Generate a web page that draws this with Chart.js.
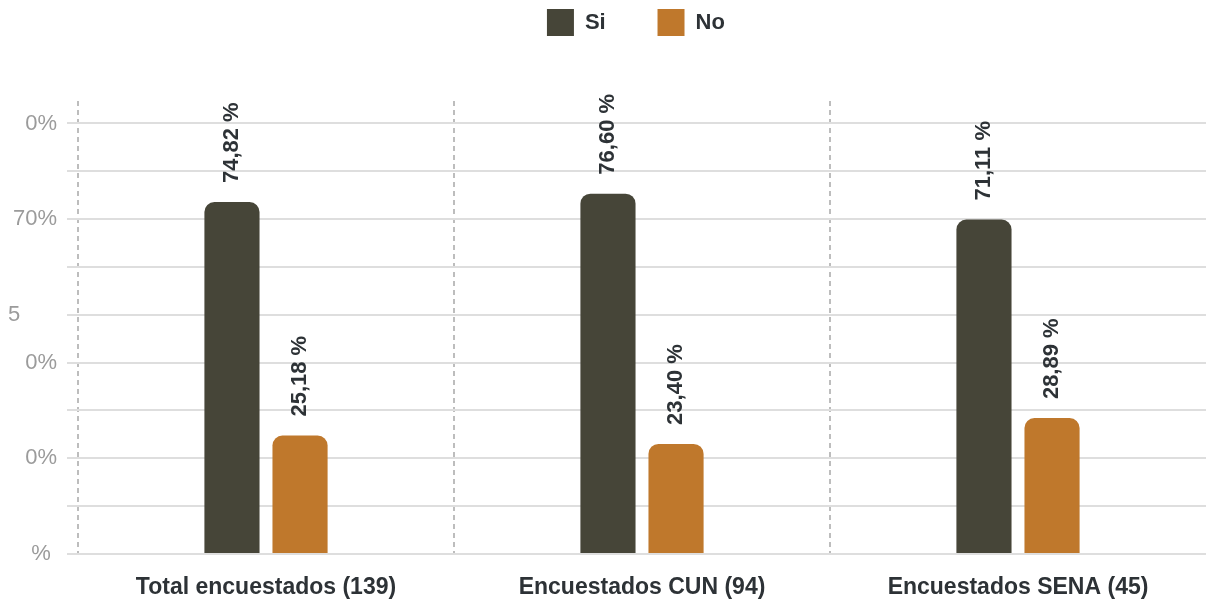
<!DOCTYPE html>
<html lang="es">
<head>
<meta charset="utf-8">
<title>Encuestados</title>
<script src="https://cdn.jsdelivr.net/npm/chart.js@4.4.1/dist/chart.umd.min.js"></script>
<style>
  html, body { margin: 0; padding: 0; background: #fff; }
  #wrap { width: 1206px; height: 601px; position: relative; }
</style>
</head>
<body>
<div id="wrap"><canvas id="chart"></canvas></div>
<script>
const categories = ['Total encuestados (139)', 'Encuestados CUN (94)', 'Encuestados SENA (45)'];
const seriesNames = ['Si', 'No'];
const siValues = [74.82, 76.60, 71.11];
const noValues = [25.18, 23.40, 28.89];
// y tick labels as printed in the picture, bottom to top
const yTickLabels = ['% ', '', '0%', '', '0%', '5      ', '', '70%', '', '0%'];
const yTickStep = 10.17;
const yMax = 96.3;

const FONT = "'Liberation Sans', Arial, Helvetica, sans-serif";
Chart.defaults.font.family = FONT;

// rotated value labels above each bar
const valueLabels = {
    id: 'valueLabels',
    afterDatasetsDraw(chart) {
        const ctx = chart.ctx;
        ctx.save();
        ctx.font = 'bold 22px ' + FONT;
        ctx.fillStyle = '#2d3236';
        ctx.textAlign = 'left';
        ctx.textBaseline = 'middle';
        chart.data.datasets.forEach((ds, i) => {
            chart.getDatasetMeta(i).data.forEach((bar, j) => {
                const txt = ds.data[j].toFixed(2).replace('.', ',') + ' %';
                ctx.save();
                ctx.translate(bar.x, bar.y - 19);
                ctx.rotate(-Math.PI / 2);
                ctx.fillText(txt, 0, 0);
                ctx.restore();
            });
        });
        ctx.restore();
    }
};

// extra room between legend and plot
const legendGap = {
    id: 'legendGap',
    afterInit(chart) {
        const fit = chart.legend.fit;
        chart.legend.fit = function () {
            fit.call(this);
            this.height += 55;
        };
    }
};

new Chart(document.getElementById('chart'), {
    type: 'bar',
    data: {
        labels: categories,
        datasets: [
            { label: seriesNames[0], data: siValues, backgroundColor: '#464538', borderRadius: 10 },
            { label: seriesNames[1], data: noValues, backgroundColor: '#bf782c', borderRadius: 10 }
        ]
    },
    options: {
        responsive: true,
        maintainAspectRatio: false,
        animation: false,
        layout: { padding: 0 },
        datasets: { bar: { categoryPercentage: 0.362, barPercentage: 0.81 } },
        plugins: {
            tooltip: { enabled: false },
            legend: {
                position: 'top',
                fullSize: false,
                labels: {
                    boxWidth: 27,
                    boxHeight: 27,
                    padding: 9,
                    color: '#2d3236',
                    font: { size: 22, weight: 'bold' },
                    generateLabels(chart) {
                        const items = Chart.defaults.plugins.legend.labels.generateLabels(chart);
                        items[0].text = items[0].text + '       ';
                        items[1].text = items[1].text + '  ';
                        return items;
                    }
                }
            }
        },
        scales: {
            x: {
                afterFit(scale) { scale.height = 47; },
                grid: {
                    offset: true,
                    drawTicks: false,
                    lineWidth: 2,
                    color: c => c.type === 'tick' ? '#bdbdbd' : 'rgba(0,0,0,0)'
                },
                border: { display: false, dash: [5, 4] },
                ticks: { color: '#2d3236', font: { size: 23, weight: 'bold' }, padding: 20, maxRotation: 0 }
            },
            y: {
                min: 0,
                max: yMax,
                afterBuildTicks(scale) {
                    scale.ticks = yTickLabels.map((_, i) => ({ value: i * yTickStep }));
                },
                afterFit(scale) { scale.width = 78; },
                grid: { color: '#dedede', lineWidth: 2, tickLength: 11 },
                border: { display: false },
                ticks: {
                    color: '#9b9b9b',
                    font: { size: 22 },
                    padding: 10,
                    autoSkip: false,
                    callback: (v, i) => yTickLabels[i]
                }
            }
        }
    },
    plugins: [valueLabels, legendGap]
});
</script>
</body>
</html>
